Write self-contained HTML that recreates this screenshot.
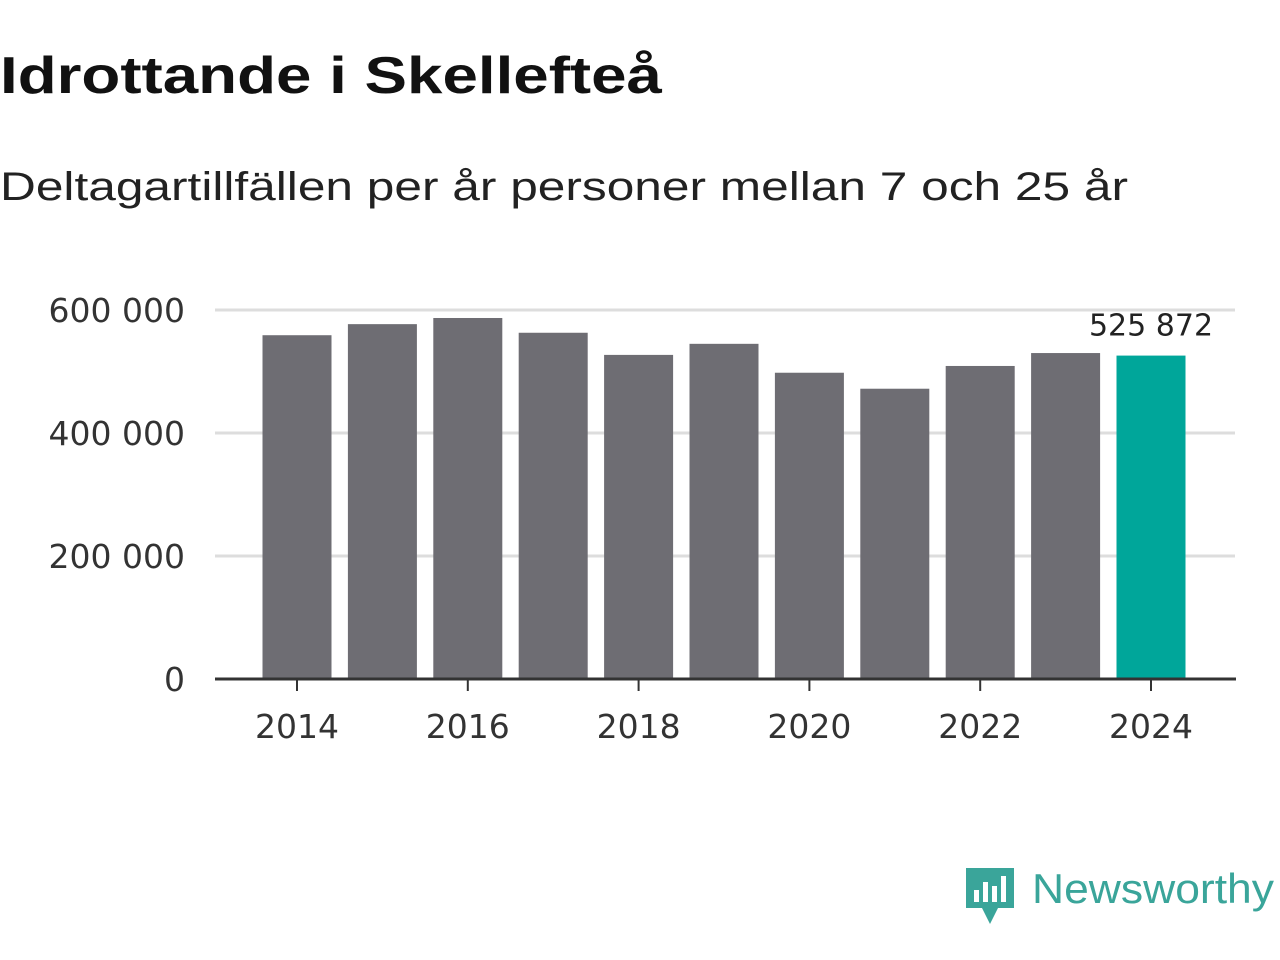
<!DOCTYPE html>
<html><head><meta charset="utf-8"><style>
body{margin:0;background:#fff;width:1280px;height:960px;overflow:hidden;font-family:"Liberation Sans",sans-serif}
svg{position:absolute;left:0;top:0}
</style></head><body>
<svg width="1280" height="960">
<text x="0" y="93" font-size="52" font-weight="bold" fill="#111" textLength="662" lengthAdjust="spacingAndGlyphs">Idrottande i Skellefteå</text>
<text x="0" y="200" font-size="40" fill="#222" textLength="1128" lengthAdjust="spacingAndGlyphs">Deltagartillfällen per år personer mellan 7 och 25 år</text>
<g id="grid"></g><g id="bars"></g><g id="axis"></g>
<g>
<path d="M966 868h48v40h-16l-8 16-8-16h-16z" fill="#3aa59a"/>
<rect x="974" y="890" width="5" height="12" fill="#fff"/><rect x="983" y="882" width="5" height="20" fill="#fff"/><rect x="992" y="886" width="5" height="16" fill="#fff"/><rect x="1001" y="876" width="5" height="26" fill="#fff"/>
<text x="1032" y="903" font-size="42" fill="#3aa59a" textLength="242" lengthAdjust="spacingAndGlyphs">Newsworthy</text>
</g>
</svg>
<script>
const years=[2014,2015,2016,2017,2018,2019,2020,2021,2022,2023,2024];
const values=[559000,577000,587000,563000,527000,545000,498000,472000,509000,530000,525872];
const yTicks=[0,200000,400000,600000];
const yTickLabels=["0","200 000","400 000","600 000"];
const NS="http://www.w3.org/2000/svg";
const F='"DejaVu Sans",sans-serif';
const y=v=>679-v/600000*369;
const x=yr=>297+(yr-2014)*85.4;
function mk(t,a,p){const e=document.createElementNS(NS,t);for(const k in a)e.setAttribute(k,a[k]);p.appendChild(e);return e;}
const g=document.getElementById('grid'),b=document.getElementById('bars'),ax=document.getElementById('axis');
yTicks.forEach((v,i)=>{
 if(v>0){const l=mk('line',{x1:215,x2:1235,y1:y(v),y2:y(v),stroke:'#ddd','stroke-width':3},g);
 
 }
 const t=mk('text',{x:185,y:y(v)+12,'font-size':33,'font-family':F,fill:'#333','text-anchor':'end'},ax);t.textContent=yTickLabels[i];
 
 
});
years.forEach((yr,i)=>{
 const last=i===years.length-1;
 const r=mk('rect',{x:x(yr)-34.5,y:y(values[i]),width:69,height:679-y(values[i]),fill:last?'#00a69a':'#6e6d73'},b);
 
 
 if(last){const t=mk('text',{x:x(yr),y:y(values[i])-20,'font-size':30,'font-family':F,fill:'#222','text-anchor':'middle'},ax);
 t.textContent=values[i].toString().replace(/\B(?=(\d{3})+(?!\d))/g,' ');
 
 }
 if(yr%2===0){mk('line',{x1:x(yr),x2:x(yr),y1:679,y2:691,stroke:'#333','stroke-width':2},ax);
 const t=mk('text',{x:x(yr),y:738,'font-size':33,'font-family':F,fill:'#333','text-anchor':'middle'},ax);t.textContent=yr;
 
 }
});
const base=mk('line',{x1:215,x2:1236,y1:679,y2:679,stroke:'#333','stroke-width':3},ax);


</script>
</body></html>
